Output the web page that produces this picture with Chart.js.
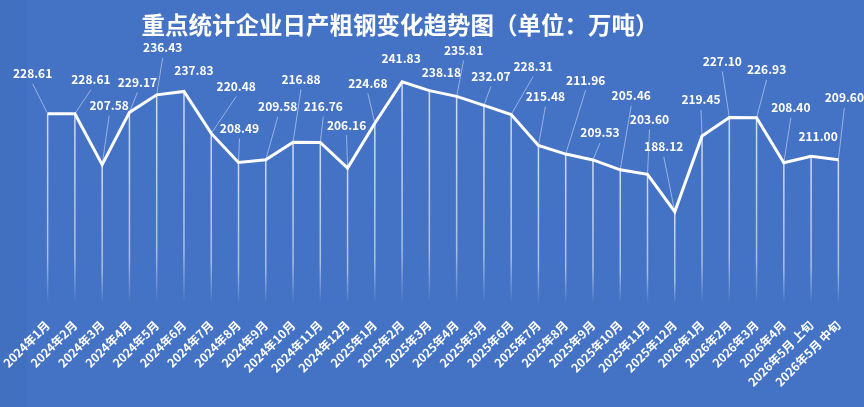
<!DOCTYPE html>
<html>
<head>
<meta charset="utf-8">
<script src="https://cdn.jsdelivr.net/npm/chart.js@4/dist/chart.umd.min.js"></script>
<style>
  html, body { margin: 0; padding: 0; background: #4472c4; }
  #wrap { width: 864px; height: 407px; }
</style>
</head>
<body>
<div id="wrap"><canvas id="chart" width="864" height="407"></canvas></div>
<script>
const categories = [
  '2024年1月', '2024年2月', '2024年3月', '2024年4月', '2024年5月', '2024年6月',
  '2024年7月', '2024年8月', '2024年9月', '2024年10月', '2024年11月', '2024年12月',
  '2025年1月', '2025年2月', '2025年3月', '2025年4月', '2025年5月', '2025年6月',
  '2025年7月', '2025年8月', '2025年9月', '2025年10月', '2025年11月', '2025年12月',
  '2026年1月', '2026年2月', '2026年3月', '2026年4月', '2026年5月 上旬', '2026年5月 中旬'
];
const dailyOutput = [
  228.61, 228.61, 207.58, 229.17, 236.43, 237.83,
  220.48, 208.49, 209.58, 216.88, 216.76, 206.16,
  224.68, 241.83, 238.18, 235.81, 232.07, 228.31,
  215.48, 211.96, 209.53, 205.46, 203.60, 188.12,
  219.45, 227.10, 226.93, 208.40, 211.00, 209.60
];
const chartTitle = '重点统计企业日产粗钢变化趋势图（单位：万吨）';

// label placement relative to its point (px), like the hand-dragged Excel labels
const labelOffsets = [
  [-15, -40], [16, -34], [7, -59], [8, -30], [6, -47], [10, -21],
  [25, -47], [1, -34], [12, -53], [8, -63], [3, -36], [-1, -43],
  [-7, -40], [-1, -23], [12, -18], [7, -46], [7, -29], [22, -48],
  [7, -49], [20, -74], [7, -27], [11, -74], [2, -55], [-11, -65],
  [-1, -36], [-7, -56], [10, -48], [7, -55], [7, -20], [6, -62]
];

const FONT = '"Noto Sans CJK SC", "Noto Sans", sans-serif';

const background = {
  id: 'background',
  beforeDraw(chart) {
    const ctx = chart.ctx;
    ctx.save();
    ctx.fillStyle = '#4472c4';
    ctx.fillRect(0, 0, chart.width, chart.height);
    ctx.fillStyle = '#4270c1';
    ctx.fillRect(0, 0, 27, chart.height);
    ctx.fillStyle = '#fff';
    ctx.font = 'bold 23.5px ' + FONT;
    ctx.textAlign = 'center';
    ctx.textBaseline = 'middle';
    ctx.fillText(chartTitle, 400, 25);
    ctx.restore();
  }
};

const dropLines = {
  id: 'dropLines',
  beforeDatasetsDraw(chart) {
    const ctx = chart.ctx;
    const bottom = chart.chartArea.bottom;
    const pts = chart.getDatasetMeta(0).data;
    ctx.save();
    ctx.lineWidth = 1.5;
    pts.forEach((p) => {
      const g = ctx.createLinearGradient(0, p.y, 0, bottom);
      g.addColorStop(0, 'rgba(255,255,255,0.75)');
      g.addColorStop(0.75, 'rgba(255,255,255,0.55)');
      g.addColorStop(1, 'rgba(255,255,255,0)');
      ctx.strokeStyle = g;
      ctx.beginPath();
      ctx.moveTo(p.x, p.y);
      ctx.lineTo(p.x, bottom);
      ctx.stroke();
    });
    ctx.restore();
  }
};

const dataLabels = {
  id: 'dataLabels',
  afterDatasetsDraw(chart) {
    const ctx = chart.ctx;
    const pts = chart.getDatasetMeta(0).data;
    ctx.save();
    ctx.font = 'bold 12px ' + FONT;
    ctx.textAlign = 'center';
    ctx.textBaseline = 'middle';
    pts.forEach((p, i) => {
      const [dx, dy] = labelOffsets[i];
      const lx = p.x + dx;
      const ly = p.y + dy;
      if (Math.abs(dy) > 24) {
        ctx.strokeStyle = 'rgba(255,255,255,0.45)';
        ctx.lineWidth = 1;
        ctx.beginPath();
        ctx.moveTo(p.x, p.y);
        ctx.lineTo(lx, ly + 10);
        ctx.stroke();
      }
      ctx.fillStyle = '#fff';
      ctx.fillText(dailyOutput[i].toFixed(2), lx, ly);
    });
    ctx.restore();
  }
};

new Chart(document.getElementById('chart'), {
  type: 'line',
  data: {
    labels: categories,
    datasets: [{
      data: dailyOutput,
      borderColor: '#ffffff',
      borderWidth: 3,
      pointRadius: 0,
      tension: 0,
      fill: false
    }]
  },
  options: {
    responsive: false,
    animation: false,
    layout: { autoPadding: false, padding: { left: 34, right: 12, top: 62, bottom: 0 } },
    plugins: { legend: { display: false }, tooltip: { enabled: false } },
    scales: {
      x: {
        offset: true,
        grid: { display: false, drawTicks: false },
        border: { display: false },
        afterFit(scale) {
          scale.height = 103;
          scale.paddingLeft = 0;
          scale.paddingRight = 0;
        },
        ticks: {
          autoSkip: false,
          maxRotation: 45,
          minRotation: 45,
          padding: 14,
          color: '#ffffff',
          font: { family: FONT, size: 12, weight: 'bold' }
        }
      },
      y: { display: false, min: 150, max: 250 }
    }
  },
  plugins: [background, dropLines, dataLabels]
});
</script>
</body>
</html>
